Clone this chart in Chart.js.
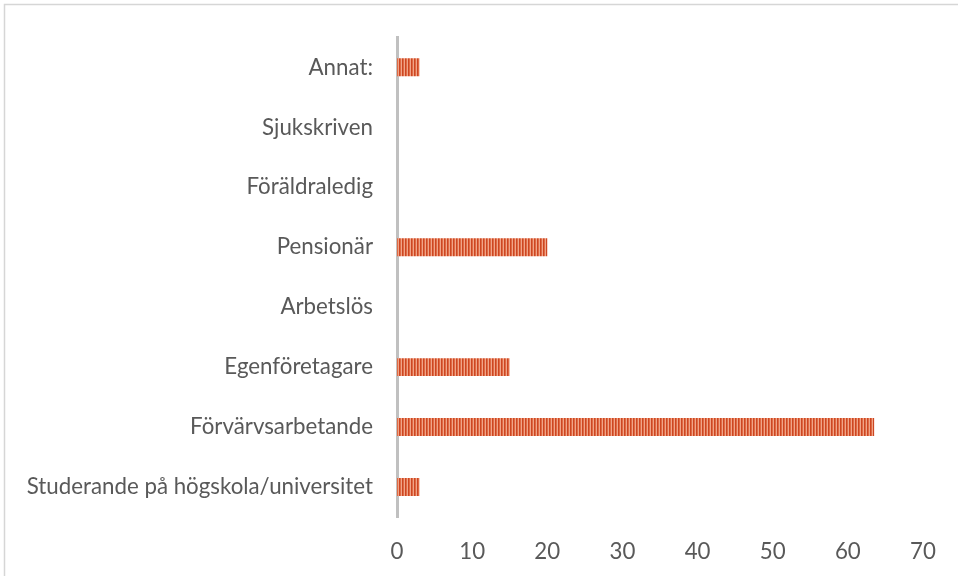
<!DOCTYPE html>
<html>
<head>
<meta charset="utf-8">
<script src="https://cdn.jsdelivr.net/npm/chart.js@4/dist/chart.umd.min.js"></script>
<style>
  html, body { margin: 0; padding: 0; background: #ffffff; }
  #wrap { width: 958px; height: 576px; position: relative; }
</style>
</head>
<body>
<div id="wrap"><canvas id="c" width="958" height="576"></canvas></div>
<script>
// ---- Data ----
const categories = [
  "Annat:",
  "Sjukskriven",
  "Föräldraledig",
  "Pensionär",
  "Arbetslös",
  "Egenföretagare",
  "Förvärvsarbetande",
  "Studerande på högskola/universitet"
];
const values = [3, 0, 0, 20, 0, 15, 63.5, 3];
const xTicks = [0, 10, 20, 30, 40, 50, 60, 70];

// ---- Styling ----
const FONT_FAMILY = "Lato, 'Open Sans', 'Liberation Sans', sans-serif";
const TEXT_COLOR = "#595959";

// fit font size so the longest label is ~346px wide
function fitFontSize() {
  const m = document.createElement('canvas').getContext('2d');
  let longest = categories.reduce((a, b) => a.length > b.length ? a : b);
  let size = 20;
  m.font = size + "px " + FONT_FAMILY;
  const w = m.measureText(longest).width;
  return Math.round(size * 346 / w * 10) / 10;
}
const FONT_SIZE = fitFontSize();

// striped bar fill
function makePattern() {
  const p = document.createElement('canvas');
  p.width = 3; p.height = 1;
  const g = p.getContext('2d');
  g.fillStyle = "#cc4622"; g.fillRect(0, 0, 1, 1);
  g.fillStyle = "#df6a44"; g.fillRect(1, 0, 1, 1);
  g.fillStyle = "#f0a488"; g.fillRect(2, 0, 1, 1);
  return g.createPattern(p, 'repeat');
}

const frame = {
  id: 'frame',
  beforeDraw(chart) {
    const ctx = chart.ctx;
    ctx.save();
    ctx.fillStyle = '#ffffff';
    ctx.fillRect(0, 0, chart.width, chart.height);
    ctx.strokeStyle = '#d6d6d6';
    ctx.lineWidth = 1.5;
    ctx.beginPath();
    ctx.moveTo(4.5, chart.height);
    ctx.lineTo(4.5, 4.5);
    ctx.lineTo(chart.width, 4.5);
    ctx.stroke();
    ctx.restore();
  }
};

new Chart(document.getElementById('c'), {
  type: 'bar',
  data: {
    labels: categories,
    datasets: [{
      data: values,
      backgroundColor: makePattern(),
      borderWidth: 0,
      barPercentage: 0.3,
      categoryPercentage: 1.0
    }]
  },
  options: {
    indexAxis: 'y',
    responsive: false,
    animation: false,
    devicePixelRatio: 1,
    layout: { padding: { top: 33, right: 35, bottom: 0, left: 0 } },
    plugins: { legend: { display: false }, tooltip: { enabled: false } },
    scales: {
      x: {
        min: 0, max: 70,
        afterBuildTicks(scale) { scale.ticks = xTicks.map(v => ({ value: v })); },
        afterFit(scale) { scale.height = 59; },
        grid: { display: false },
        border: { display: false },
        ticks: {
          color: TEXT_COLOR,
          padding: 13,
          font: { family: FONT_FAMILY, size: FONT_SIZE }
        }
      },
      y: {
        z: 1,
        afterFit(scale) { scale.width = 397; },
        grid: { display: false, drawTicks: false },
        border: { display: true, color: '#c0c0c0', width: 3 },
        ticks: {
          color: TEXT_COLOR,
          padding: 24,
          font: { family: FONT_FAMILY, size: FONT_SIZE }
        }
      }
    }
  },
  plugins: [frame]
});
</script>
</body>
</html>
